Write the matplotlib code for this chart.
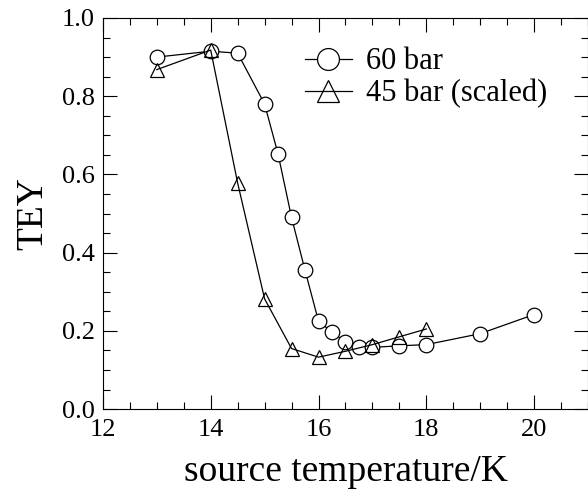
import numpy as np
import matplotlib
matplotlib.use("Agg")
import matplotlib.pyplot as plt
from matplotlib.ticker import MultipleLocator

plt.rcParams['font.family'] = ['Liberation Serif', 'DejaVu Serif']

# data
t_60 = [13, 14, 14.5, 15, 15.25, 15.5, 15.75, 16, 16.25, 16.5, 16.75, 17, 17.5, 18, 19, 20]
tey_60 = [0.900, 0.915, 0.910, 0.780, 0.652, 0.490, 0.355, 0.225, 0.197, 0.172,
          0.158, 0.158, 0.162, 0.165, 0.193, 0.242]
t_45 = [13, 14, 14.5, 15, 15.5, 16, 16.5, 17, 17.5, 18]
tey_45 = [0.868, 0.918, 0.578, 0.282, 0.155, 0.133, 0.148, 0.165, 0.185, 0.205]

fig = plt.figure(figsize=(5.88, 4.99), dpi=100)
ax = fig.add_axes([0.175, 0.180, 0.825, 0.784])

ax.plot(t_60, tey_60, color='black', lw=0.9, marker='o', ms=10.5,
        mfc='white', mec='black', mew=0.9, label='60 bar')
ax.plot(t_45, tey_45, color='black', lw=0.9, marker='^', ms=10.5,
        mfc='none', mec='black', mew=0.9, label='45 bar (scaled)')

ax.set_xlim(12, 21)
ax.set_ylim(0, 1.0)
ax.xaxis.set_major_locator(MultipleLocator(2))
ax.xaxis.set_minor_locator(MultipleLocator(0.5))
ax.yaxis.set_major_locator(MultipleLocator(0.2))
ax.yaxis.set_minor_locator(MultipleLocator(0.05))
ax.yaxis.set_major_formatter(matplotlib.ticker.FormatStrFormatter('%.1f'))
ax.tick_params(which='both', direction='in', top=True, right=True, labelsize=19, width=0.8)
ax.tick_params(which='major', length=10)
ax.tick_params(which='minor', length=5)
ax.tick_params(axis='x', pad=7)
ax.tick_params(axis='y', pad=6)
for s in ax.spines.values():
    s.set_linewidth(0.8)

ax.set_xlabel('source temperature/K', fontsize=27, labelpad=10)
ax.set_ylabel('TEY', fontsize=27, labelpad=8)

ax.legend(loc='upper left', frameon=False, fontsize=22, markerscale=1.5,
          handlelength=1.55, handletextpad=0.45, labelspacing=0.1,
          borderpad=0, borderaxespad=0, bbox_to_anchor=(0.416, 0.925))

fig.savefig('out.png', dpi=100)
